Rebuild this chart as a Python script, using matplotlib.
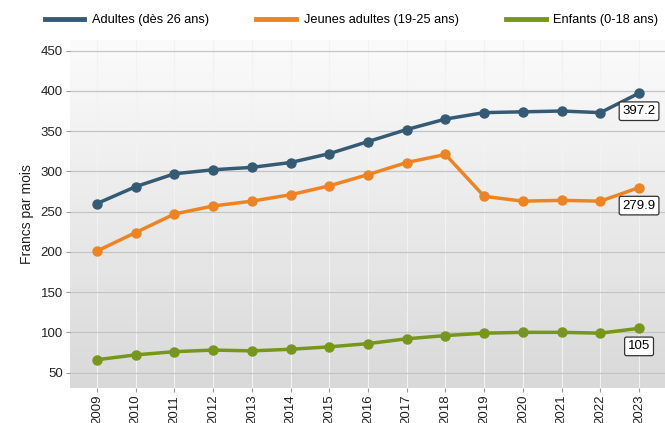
import numpy as np
import matplotlib.pyplot as plt
from matplotlib.colors import LinearSegmentedColormap

plt.rcParams['font.family'] = ['Liberation Sans', 'DejaVu Sans']

years = list(range(2009, 2024))
adultes = [260, 281, 297, 302, 305, 311, 322, 337, 352, 365, 373, 374, 375, 373, 397.2]
jeunes = [201, 224, 247, 257, 263, 271, 282, 296, 311, 321, 269, 263, 264, 263, 279.9]
enfants = [66, 72, 76, 78, 77, 79, 82, 86, 92, 96, 99, 100, 100, 99, 105]

labels = ['Adultes (dès 26 ans)', 'Jeunes adultes (19-25 ans)', 'Enfants (0-18 ans)']
colors = ['#355b74', '#ed8424', '#76961c']
last_labels = ['397.2', '279.9', '105']

fig = plt.figure(figsize=(6.65, 4.23), dpi=100)
ax = fig.add_axes([0.105, 0.083, 0.895, 0.822])

# background gradient, light at top, grey at bottom
grad = np.linspace(1, 0, 256).reshape(-1, 1)
cmap = LinearSegmentedColormap.from_list('g', ['#d9d9d9', '#fbfbfb'])
ax.imshow(grad, cmap=cmap, extent=[0, 1, 0, 1], transform=ax.transAxes,
          aspect='auto', zorder=0)

for y, c, lab, last in zip([adultes, jeunes, enfants], colors, labels, last_labels):
    ax.plot(years, y, color=c, lw=2.5, marker='o', ms=6.5, label=lab, zorder=3)
    ax.annotate(last, (years[-1], y[-1]), xytext=(0, -13), textcoords='offset points',
                ha='center', va='center', fontsize=9.5, zorder=5,
                bbox=dict(boxstyle='round,pad=0.25,rounding_size=0.15', fc='white', ec='#333333', lw=0.9))

ax.set_xlim(2008.3, 2023.67)
ax.set_ylim(31, 463)
ax.set_yticks(range(50, 451, 50))
ax.set_xticks(years)
ax.set_xticklabels([str(y) for y in years], rotation=90)
ax.tick_params(axis='both', labelsize=9.5, colors='#222222', length=3, pad=2, color='#999999')
ax.grid(axis='y', color='#c4c4c4', lw=0.9, zorder=1)
ax.grid(axis='x', color='#f2f2f2', lw=0.8, zorder=1)
ax.set_axisbelow(True)
for s in ax.spines.values():
    s.set_visible(False)
ax.set_ylabel('Francs par mois', fontsize=10, color='#222222', labelpad=5)

handles = [plt.Line2D([], [], color=c, lw=3.5) for c in colors]
fig.legend(handles, labels, loc='upper left', bbox_to_anchor=(0.05, 0.993), ncol=3,
           frameon=False, fontsize=9.2, handlelength=3.1, columnspacing=3.7, handletextpad=0.6)

fig.savefig('out.png', dpi=100)
